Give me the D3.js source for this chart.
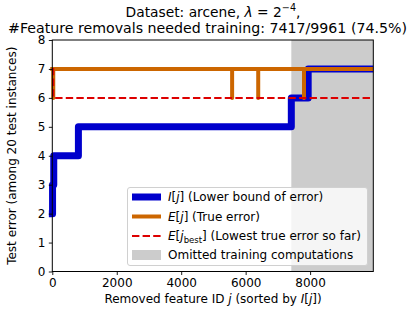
<!DOCTYPE html>
<html><head><meta charset="utf-8">
<script src="https://cdn.jsdelivr.net/npm/d3@7"></script>
<style>body{margin:0;background:#fff}svg{display:block}text{font-family:"DejaVu Sans",sans-serif;fill:#000}</style>
</head><body><svg id="c" width="415" height="311"></svg>
<script>
// ---- data ----
const totalFeatures = 9961;
const neededTraining = 7417;
// I[j] lower bound: step changes (j where value starts)
const lowerBoundJ = [0, 8, 45, 810, 7417, 7940];
const lowerBoundV = [2, 3, 4, 5, 6, 7];
// E[j] true error: baseline 7, dips to 6 at these j
const trueErrorBase = 7;
const trueErrorDipJ = [30, 5580, 6390, 7810];
const trueErrorDipV = [6, 6, 6, 6];
// E[j_best]
const bestJ = [0, 30];
const bestV = [7, 6];
const xTicks = [0, 2000, 4000, 6000, 8000];
const yTicks = [0, 1, 2, 3, 4, 5, 6, 7, 8];

const svg = d3.select("#c");
const L = 52.3, R = 373.3, T = 40, B = 271.5;
const x = d3.scaleLinear().domain([0, totalFeatures]).range([L, R]);
const y = d3.scaleLinear().domain([0, 8]).range([B, T]);

// omitted region
svg.append("rect").attr("x", x(neededTraining)).attr("y", T)
  .attr("width", x(totalFeatures) - x(neededTraining)).attr("height", B - T)
  .attr("fill", "#cccccc");

const line = d3.line().x(d => x(d[0])).y(d => y(d[1]));

const lbPts = [];
lowerBoundJ.forEach((j, i) => {
  if (i > 0) lbPts.push([j, lowerBoundV[i - 1]]);
  lbPts.push([j, lowerBoundV[i]]);
});
lbPts.push([totalFeatures, lowerBoundV[lowerBoundV.length - 1]]);

const tePts = [[0, trueErrorBase]];
trueErrorDipJ.forEach((j, i) => {
  tePts.push([j, trueErrorBase]);
  tePts.push([j, trueErrorDipV[i]]);
  tePts.push([j, trueErrorBase]);
});
tePts.push([totalFeatures, trueErrorBase]);

const bPts = [];
bestJ.forEach((j, i) => {
  if (i > 0) bPts.push([j, bestV[i - 1]]);
  bPts.push([j, bestV[i]]);
});
bPts.push([totalFeatures, bestV[bestV.length - 1]]);

svg.append("clipPath").attr("id", "cp").append("rect")
  .attr("x", L - 4).attr("y", T).attr("width", R - L + 4).attr("height", B - T + 6);

const g = svg.append("g").attr("clip-path", "url(#cp)");
const blue = "#0000cc", orange = "#cc6600", red = "#dd0000";
g.append("path").attr("d", line(lbPts)).attr("fill", "none").attr("stroke", blue)
  .attr("stroke-width", 7).attr("stroke-linejoin", "round").attr("stroke-linecap", "square");
g.append("path").attr("d", line(tePts)).attr("fill", "none").attr("stroke", orange)
  .attr("stroke-width", 4).attr("stroke-linejoin", "round").attr("stroke-linecap", "square");
g.append("path").attr("d", line(bPts)).attr("fill", "none").attr("stroke", red)
  .attr("stroke-width", 2).attr("stroke-dasharray", "7.4,3.2");

// axes
const xAxis = d3.axisBottom(x).tickValues(xTicks).tickSize(3.5).tickPadding(3.5).tickFormat(d3.format("d"));
const yAxis = d3.axisLeft(y).tickValues(yTicks).tickSize(3.5).tickPadding(3.5);
const gx = svg.append("g").attr("transform", `translate(0,${B})`).call(xAxis);
const gy = svg.append("g").attr("transform", `translate(${L},0)`).call(yAxis);
[gx, gy].forEach(a => {
  a.select(".domain").remove();
  a.selectAll("text").attr("font-size", 12).attr("font-family", "DejaVu Sans").attr("fill", "#000");
  a.selectAll("line").attr("stroke", "#000").attr("stroke-width", 0.9);
});
svg.append("rect").attr("x", L).attr("y", T).attr("width", R - L).attr("height", B - T)
  .attr("fill", "none").attr("stroke", "#000").attr("stroke-width", 1);

// titles
const t1 = svg.append("text").attr("x", 213).attr("y", 16.5).attr("text-anchor", "middle").attr("font-size", 13.8);
t1.append("tspan").text("Dataset: arcene, ");
t1.append("tspan").attr("font-style", "italic").text("λ");
t1.append("tspan").text(" = 2");
t1.append("tspan").attr("font-size", 9.6).attr("dy", -5.5).text("−4");
t1.append("tspan").attr("dy", 5.5).text(",");
svg.append("text").attr("x", 207.5).attr("y", 32.5).attr("text-anchor", "middle").attr("font-size", 13.8)
  .attr("textLength", 399).attr("lengthAdjust", "spacingAndGlyphs")
  .text(`#Feature removals needed training: ${neededTraining}/${totalFeatures} (${(100 * neededTraining / totalFeatures).toFixed(1)}%)`);

// axis labels
const xl = svg.append("text").attr("x", 213).attr("y", 303).attr("text-anchor", "middle").attr("font-size", 12);
xl.append("tspan").text("Removed feature ID ");
xl.append("tspan").attr("font-style", "italic").text("j");
xl.append("tspan").text(" (sorted by ");
xl.append("tspan").attr("font-style", "italic").text("I");
xl.append("tspan").text("[");
xl.append("tspan").attr("font-style", "italic").text("j");
xl.append("tspan").text("])");
svg.append("text").attr("transform", `translate(15.5,${(T + B) / 2}) rotate(-90)`).attr("text-anchor", "middle")
  .attr("font-size", 12).text("Test error (among 20 test instances)");

// legend
const lg = svg.append("g");
lg.append("rect").attr("x", 127.5).attr("y", 187.5).attr("width", 240).attr("height", 78).attr("rx", 2.5)
  .attr("fill", "rgba(255,255,255,0.8)").attr("stroke", "#d0d0d0").attr("stroke-width", 1);
const rows = [197, 216.5, 236, 255];
const hx0 = 132, hx1 = 161, tx = 168;
lg.append("line").attr("x1", hx0).attr("x2", hx1).attr("y1", rows[0]).attr("y2", rows[0]).attr("stroke", blue).attr("stroke-width", 7);
lg.append("line").attr("x1", hx0).attr("x2", hx1).attr("y1", rows[1]).attr("y2", rows[1]).attr("stroke", orange).attr("stroke-width", 4);
lg.append("line").attr("x1", hx0).attr("x2", hx1).attr("y1", rows[2]).attr("y2", rows[2]).attr("stroke", red).attr("stroke-width", 2).attr("stroke-dasharray", "7.4,3.2");
lg.append("rect").attr("x", hx0).attr("y", rows[3] - 5).attr("width", hx1 - hx0).attr("height", 10).attr("fill", "#cccccc");
function lt(i) { return lg.append("text").attr("x", tx).attr("y", rows[i] + 4.3).attr("font-size", 12); }
let a = lt(0);
a.append("tspan").attr("font-style", "italic").text("I");
a.append("tspan").text("[");
a.append("tspan").attr("font-style", "italic").text("j");
a.append("tspan").text("] (Lower bound of error)");
a = lt(1);
a.append("tspan").attr("font-style", "italic").text("E");
a.append("tspan").text("[");
a.append("tspan").attr("font-style", "italic").text("j");
a.append("tspan").text("] (True error)");
a = lt(2);
a.append("tspan").attr("font-style", "italic").text("E");
a.append("tspan").text("[");
a.append("tspan").attr("font-style", "italic").text("j");
a.append("tspan").attr("font-size", 8.5).attr("dy", 3).text("best");
a.append("tspan").attr("dy", -3).text("] (Lowest true error so far)");
lt(3).text("Omitted training computations");
</script></body></html>
